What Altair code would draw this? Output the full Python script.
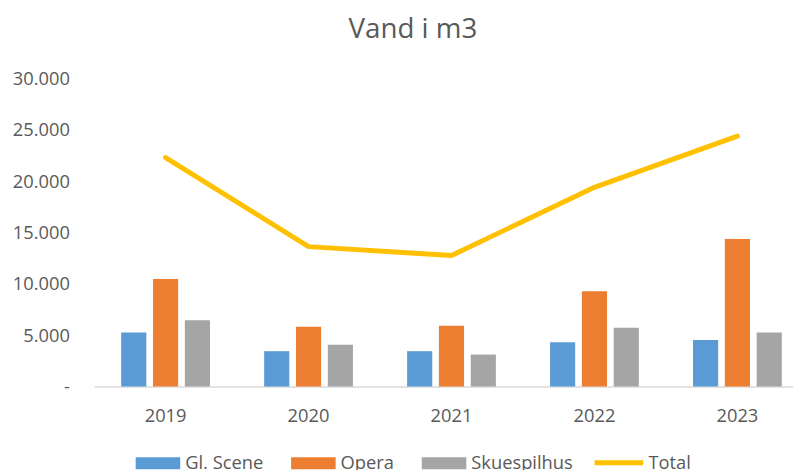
import altair as alt
import pandas as pd

years = ["2019", "2020", "2021", "2022", "2023"]
gl_scene = [5270, 3440, 3440, 4310, 4530]
opera = [10480, 5810, 5910, 9290, 14370]
skuespilhus = [6460, 4080, 3110, 5720, 5270]
total = [22300, 13630, 12760, 19410, 24400]

series_names = ["Gl. Scene", "Opera", "Skuespilhus"]
bar_colors = ["#5B9BD5", "#ED7D31", "#A5A5A5"]
y_ticks = [0, 5000, 10000, 15000, 20000, 25000, 30000]

rows = []
for name, vals in zip(series_names, [gl_scene, opera, skuespilhus]):
    for yr, v in zip(years, vals):
        rows.append({"year": yr, "serie": name, "value": v})
bars_df = pd.DataFrame(rows)
line_df = pd.DataFrame({"year": years, "linje": ["Total"] * len(years), "value": total})

FONT = "Open Sans"
TXT = "#595959"
FS = 18.5

x_scale = alt.Scale(paddingInner=0.379, paddingOuter=0.1685, align=0.562)
x_axis = alt.Axis(
    title=None, labelAngle=0, domainColor="#D9D9D9", domainWidth=1.5,
    ticks=False, tickSize=0, labelPadding=35, labelBaseline="alphabetic",
    labelFont=FONT, labelFontSize=FS, labelColor=TXT,
)

y_scale = alt.Scale(domain=[0, 30000], nice=False)
y_axis = alt.Axis(
    title=None, values=y_ticks, domain=False, ticks=False, grid=False,
    labelExpr="datum.value == 0 ? '-\u2002' : replace(format(datum.value, ','), ',', '.')",
    labelFont=FONT, labelFontSize=FS, labelColor=TXT, labelPadding=25,
    labelBaseline="middle",
)

bars = alt.Chart(bars_df).mark_bar().encode(
    x=alt.X("year:N", sort=years, scale=x_scale, axis=x_axis),
    y=alt.Y("value:Q", scale=y_scale, axis=y_axis),
    xOffset=alt.XOffset("serie:N", sort=series_names,
                        scale=alt.Scale(paddingInner=0.21, paddingOuter=0)),
    fill=alt.Fill(
        "serie:N", sort=series_names,
        scale=alt.Scale(domain=series_names, range=bar_colors),
        legend=alt.Legend(
            title=None, orient="none", legendX=42, legendY=366,
            direction="horizontal", symbolType="M-1,-0.267H1V0.267H-1Z",
            symbolSize=2025, symbolStrokeWidth=0, symbolOpacity=1,
            labelFont=FONT, labelFontSize=FS, labelColor=TXT,
            labelOffset=5, columnPadding=28, padding=0,
        ),
    ),
)

line = alt.Chart(line_df).mark_line(strokeWidth=5, strokeCap="round", strokeJoin="round").encode(
    x=alt.X("year:N", sort=years, scale=x_scale, axis=x_axis),
    y=alt.Y("value:Q", scale=y_scale, axis=y_axis),
    stroke=alt.Stroke(
        "linje:N",
        scale=alt.Scale(domain=["Total"], range=["#FFC000"]),
        legend=alt.Legend(
            title=None, orient="none", legendX=503, legendY=361,
            direction="horizontal", symbolType="stroke", symbolSize=2401,
            symbolStrokeWidth=5, labelFont=FONT, labelFontSize=FS,
            labelColor=TXT, labelOffset=3, padding=0,
        ),
    ),
)

chart = alt.layer(bars, line).resolve_legend(fill="independent", stroke="independent").properties(
    width=716,
    height=311,
    autosize=alt.AutoSizeParams(type="none"),
    padding={"left": 87, "top": 69, "right": -10, "bottom": 82},
    title=alt.Title("Vand i m3"),
).configure_view(stroke=None).configure_title(
    font=FONT, fontSize=28, fontWeight="normal", color=TXT, anchor="middle",
    offset=26, dx=-36
)

chart.save("out.html", embed_options={"renderer": "svg", "actions": False})
